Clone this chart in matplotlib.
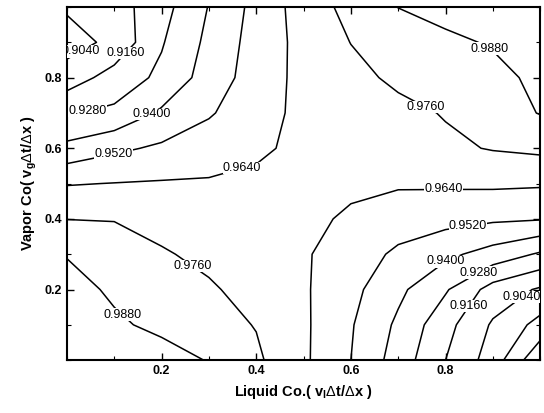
import numpy as np
import matplotlib
matplotlib.use('Agg')
from matplotlib import pyplot as plt
from matplotlib.ticker import MultipleLocator

plt.rcParams['font.family'] = ['Liberation Sans', 'DejaVu Sans']
plt.rcParams['mathtext.fontset'] = 'custom'
plt.rcParams['mathtext.rm'] = 'Liberation Sans'
plt.rcParams['mathtext.it'] = 'Liberation Sans:italic'
plt.rcParams['mathtext.bf'] = 'Liberation Sans:bold'

# grid of Courant numbers
liquid_co = [0.0, 0.1, 0.2, 0.3, 0.4, 0.5, 0.6, 0.7, 0.8, 0.9, 1.0]
vapor_co = [0.0, 0.1, 0.2, 0.3, 0.4, 0.5, 0.6, 0.7, 0.8, 0.9, 1.0]

# values, one row per vapor Co (bottom to top)
ratio = [
    [0.996, 0.994, 0.992, 0.9875, 0.978, 0.966, 0.952, 0.9347, 0.916, 0.8985, 0.870],
    [0.994, 0.9895, 0.9858, 0.9803, 0.9755, 0.966, 0.953, 0.9378, 0.920, 0.9025, 0.888],
    [0.9915, 0.9865, 0.9823, 0.9775, 0.9717, 0.9655, 0.9554, 0.9427, 0.9293, 0.9112, 0.9025],
    [0.9875, 0.982, 0.9772, 0.9731, 0.9691, 0.9653, 0.9581, 0.9498, 0.9428, 0.9352, 0.9265],
    [0.9758, 0.9755, 0.9719, 0.9692, 0.968, 0.9665, 0.9625, 0.9579, 0.956, 0.9539, 0.9528],
    [0.9633, 0.9643, 0.965, 0.9652, 0.9662, 0.968, 0.966, 0.9653, 0.9656, 0.966, 0.9654],
    [0.9433, 0.9496, 0.954, 0.9581, 0.9622, 0.9665, 0.9683, 0.9711, 0.9739, 0.9767, 0.9785],
    [0.927, 0.9304, 0.9418, 0.9508, 0.9593, 0.967, 0.9693, 0.973, 0.9767, 0.9825, 0.9885],
    [0.9095, 0.921, 0.9306, 0.9453, 0.9575, 0.9675, 0.9728, 0.9782, 0.9825, 0.9855, 0.990],
    [0.899, 0.907, 0.927, 0.9429, 0.9568, 0.9677, 0.9762, 0.9807, 0.9862, 0.9888, 0.991],
    [0.9055, 0.9105, 0.9236, 0.9405, 0.9557, 0.9693, 0.9797, 0.9882, 0.991, 0.992, 0.993],
]

levels = [0.880, 0.892, 0.904, 0.916, 0.928, 0.940, 0.952, 0.964, 0.976, 0.988]

# where the labels sit in the original
label_spots = [(0.116, 0.88), (0.042, 0.844), (0.048, 0.68), (0.18, 0.696),
               (0.097, 0.588), (0.37, 0.545), (0.768, 0.744), (0.90, 0.90),
               (0.796, 0.469), (0.848, 0.375), (0.80, 0.284), (0.87, 0.25),
               (0.95, 0.20), (0.855, 0.148), (0.244, 0.227), (0.097, 0.10)]

fig = plt.figure(figsize=(5.44, 4.13), dpi=100)
ax = fig.add_axes([0.123, 0.128, 0.870, 0.855])

X, Y = np.meshgrid(liquid_co, vapor_co)
cs = ax.contour(X, Y, np.array(ratio), levels=levels, colors='black', linewidths=1.1)

ax.set_xlim(0.0, 1.0)
ax.set_ylim(0.0, 1.0)

labels = ax.clabel(cs, manual=label_spots, inline=False, fmt='%.4f', fontsize=9)
for t in labels:
    t.set_rotation(0)
    t.set_bbox(dict(fc='white', ec='none', pad=0.2))

ax.xaxis.set_minor_locator(MultipleLocator(0.1))
ax.yaxis.set_minor_locator(MultipleLocator(0.1))
ax.set_xticks([0.2, 0.4, 0.6, 0.8])
ax.set_yticks([0.2, 0.4, 0.6, 0.8])
ax.tick_params(which='both', direction='in', top=True, right=True)
ax.tick_params(which='major', length=5, width=1.0, labelsize=9)
ax.tick_params(which='minor', length=3, width=0.8)
for lab in ax.get_xticklabels() + ax.get_yticklabels():
    lab.set_fontweight('bold')
for sp in ax.spines.values():
    sp.set_linewidth(1.5)

ax.set_xlabel(r'Liquid Co.( v$_\mathregular{l}$$\Delta$t/$\Delta$x )', fontsize=10.5, fontweight='bold')
ax.set_ylabel(r'Vapor Co( v$_\mathregular{g}$$\Delta$t/$\Delta$x )', fontsize=10.5, fontweight='bold')

fig.savefig('out.png', dpi=100)
